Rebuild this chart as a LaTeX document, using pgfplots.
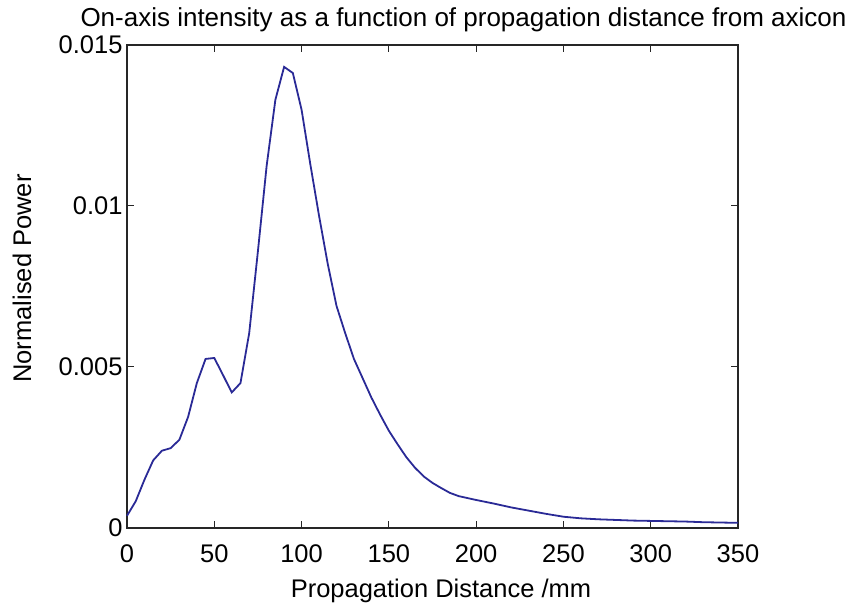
\documentclass[border=0pt]{standalone}
\usepackage{fontspec}
\setmainfont{Liberation Sans}
\usepackage{pgfplots}
\pgfplotsset{compat=1.18}
\definecolor{curve}{RGB}{42,42,150}
\begin{document}
\begin{tikzpicture}
\useasboundingbox (0,0) rectangle (860bp,606bp);
\begin{axis}[
  at={(127bp,78bp)}, anchor=south west,
  scale only axis, width=611bp, height=483bp,
  xmin=0, xmax=350, ymin=0, ymax=0.015,
  xtick={0,50,100,150,200,250,300,350},
  xticklabels={0,50,100,150,200,250,300,350},
  ytick={0,0.005,0.01,0.015},
  yticklabels={0,0.005,0.01,0.015},
  scaled y ticks=false,
  tick align=inside, major tick length=7bp,
  axis line style={line width=1.2bp, black!85},
  every tick/.style={line width=1bp, black!85},
  tick label style={font=\fontsize{25.5bp}{30bp}\selectfont},
  xticklabel style={anchor=base, yshift=-35bp},
  yticklabel style={anchor=east, xshift=-1bp},
  clip=false,
]
\addplot[curve, line width=1.8bp] coordinates {
(0,0.00038) (5,0.00083) (10,0.0015) (15,0.0021) (20,0.0024) (25,0.00248)
(30,0.00274) (35,0.00345) (40,0.0045) (45,0.00525) (50,0.00528) (55,0.00475)
(60,0.00421) (65,0.0045) (70,0.00605) (75,0.0086) (80,0.01125) (85,0.0133)
(90,0.01432) (95,0.01413) (100,0.01299) (105,0.0113) (110,0.0097) (115,0.0082)
(120,0.0069) (125,0.00605) (130,0.00525) (135,0.00465) (140,0.00405) (145,0.00352)
(150,0.00302) (155,0.0026) (160,0.0022) (165,0.00187) (170,0.0016) (175,0.0014)
(180,0.00124) (185,0.00109) (190,0.00099) (195,0.00093) (200,0.00087)
(210,0.00076) (220,0.00064) (230,0.00054) (240,0.00044) (250,0.00035)
(260,0.0003) (270,0.00027) (280,0.00025) (290,0.00023) (300,0.00022)
(310,0.00021) (320,0.0002) (330,0.00018) (340,0.00017) (350,0.00016)
};
\end{axis}
\node[anchor=base, inner sep=0pt, font=\fontsize{26bp}{30bp}\selectfont] at (463.5bp,579bp) {On-axis intensity as a function of propagation distance from axicon};
\node[anchor=base, inner sep=0pt, font=\fontsize{25.5bp}{30bp}\selectfont] at (441bp,9bp) {Propagation Distance /mm};
\node[anchor=base, rotate=90, inner sep=0pt, font=\fontsize{25.5bp}{30bp}\selectfont] at (31bp,327.5bp) {Normalised Power};
\end{tikzpicture}
\end{document}
